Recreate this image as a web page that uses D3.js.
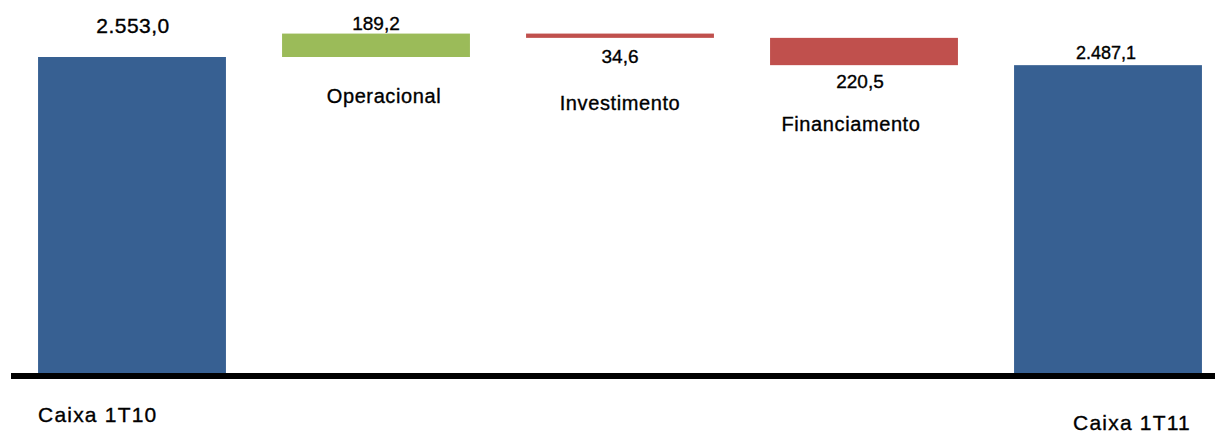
<html>
<title>Fluxo de caixa 1T11</title>
<script src="https://d3js.org/d3.v7.min.js"></script>
<style>
body { margin:0; background:#fff; }
text { font-family: "Liberation Sans", Arial, sans-serif; fill:#000; stroke:#000; stroke-width:0.35px; }
</style>
<body>
<svg width="1215" height="434"></svg>
<script>
// data
var categories = ["Caixa 1T10", "Operacional", "Investimento", "Financiamento", "Caixa 1T11"];
var values = [2553.0, 189.2, -34.6, -220.5, 2487.1];
var kinds = ["total", "delta", "delta", "delta", "total"];
var valueLabels = ["2.553,0", "189,2", "34,6", "220,5", "2.487,1"];

var colors = { total: "#376092", up: "#9bbb59", down: "#c0504d" };

// running totals for the waterfall
var running = 0;
var steps = values.map(function(v, i) {
  var s;
  if (kinds[i] == "total") { s = { y0: 0, y1: v }; running = v; }
  else { s = { y0: running, y1: running + v }; running = running + v; }
  s.cat = categories[i]; s.v = v; s.kind = kinds[i]; s.label = valueLabels[i]; s.i = i;
  return s;
});

var svg = d3.select("svg");

var x = d3.scaleBand().domain(categories).range([10, 1230]).paddingInner(0.23).paddingOuter(0.115);
var y = d3.scaleLinear().domain([0, 2553]).range([373, 57]);

function fillOf(d) {
  if (d.kind == "total") return colors.total;
  return d.v >= 0 ? colors.up : colors.down;
}

svg.append("g").selectAll("rect").data(steps).enter().append("rect")
  .attr("x", function(d) { return x(d.cat); })
  .attr("width", x.bandwidth())
  .attr("y", function(d) { return y(Math.max(d.y0, d.y1)); })
  .attr("height", function(d) { return Math.abs(y(d.y0) - y(d.y1)); })
  .style("fill", fillOf);

// baseline
svg.append("line")
  .attr("x1", 11).attr("x2", 1215)
  .attr("y1", y(0) + 3).attr("y2", y(0) + 3)
  .style("stroke", "#000").style("stroke-width", 6);

// value labels: above bars going up, below bars going down
var valDx = [1, 0, 0, -4, -2];
var valGap = [24, 4, 25, 23, 6];
var valSize = [21, 19, 19, 19, 18];
svg.append("g").selectAll("text").data(steps).enter().append("text")
  .attr("text-anchor", "middle")
  .attr("x", function(d) { return x(d.cat) + x.bandwidth() / 2 + valDx[d.i]; })
  .attr("y", function(d) {
    if (d.v >= 0) return y(Math.max(d.y0, d.y1)) - valGap[d.i];
    return y(Math.min(d.y0, d.y1)) + valGap[d.i];
  })
  .style("font-size", function(d) { return valSize[d.i] + "px"; })
  .style("letter-spacing", function(d) { return d.i == 0 ? "0.5px" : "0px"; })
  .text(function(d) { return d.label; });

// category names for the middle steps, under the bars
var nameDx = [0, 8, 0, -13, 0];
var nameDy = [0, 46, 72, 66, 0];
svg.append("g").selectAll("text").data(steps.filter(function(d) { return d.kind == "delta"; }))
  .enter().append("text")
  .attr("text-anchor", "middle")
  .attr("x", function(d) { return x(d.cat) + x.bandwidth() / 2 + nameDx[d.i]; })
  .attr("y", function(d) { return y(Math.min(d.y0, d.y1)) + nameDy[d.i]; })
  .style("font-size", "20px")
  .style("letter-spacing", "0.6px")
  .text(function(d) { return d.cat; });

// category names for the totals, under the axis
svg.append("text")
  .attr("x", x(categories[0]))
  .attr("y", 422)
  .style("font-size", "21px")
  .style("letter-spacing", "1.2px")
  .text(categories[0]);
svg.append("text")
  .attr("text-anchor", "end")
  .attr("x", x(categories[4]) + x.bandwidth() - 11)
  .attr("y", 430)
  .style("font-size", "21px")
  .style("letter-spacing", "1.2px")
  .text(categories[4]);
</script>
</body>
</html>
